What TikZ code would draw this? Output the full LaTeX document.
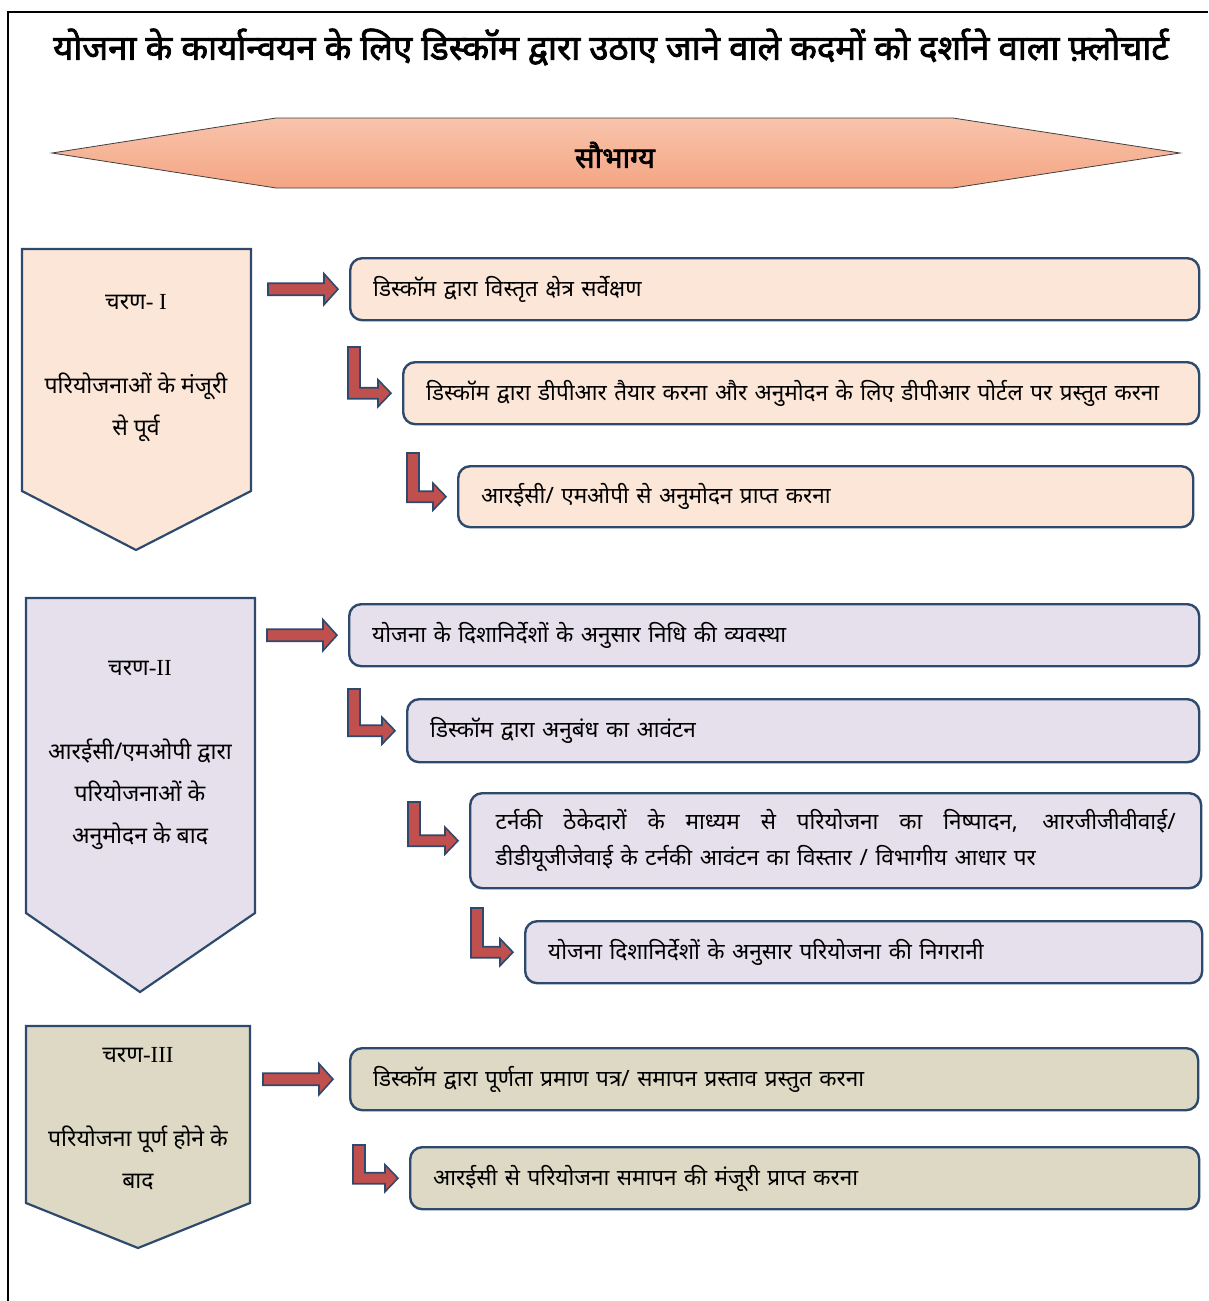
\documentclass[tikz,border=0pt]{standalone}
\usepackage{fontspec}
\setmainfont{Liberation Serif}
\newfontfamily\dev[Script=Devanagari]{Noto Sans}
\newfontfamily\devbold[Script=Devanagari, FakeBold=2.2]{Noto Sans}
\usetikzlibrary{calc}

\definecolor{rekha}{HTML}{2D4A6E}
\definecolor{charanA}{HTML}{FCE6D7}
\definecolor{charanB}{HTML}{E5E0EC}
\definecolor{charanC}{HTML}{DDD9C4}
\definecolor{teer}{HTML}{C0504D}
\definecolor{patteeU}{HTML}{F8C4AC}
\definecolor{patteeD}{HTML}{F4A583}

\tikzset{
  stepbox/.style={draw=rekha, line width=2.4pt, rounded corners=12pt, anchor=north west,
    inner xsep=23pt, inner ysep=0pt, align=left, font=\dev\fontsize{22.5}{27}\selectfont},
  stagetext/.style={align=center, anchor=base, font=\fontsize{23}{42}\selectfont},
  stageshape/.style={draw=rekha, line width=2.2pt, line join=miter},
  teerfill/.style={fill=teer, draw=rekha, line width=1.6pt, line join=miter},
}

% seedha teer: #1 = gap, #2 = lakshya node
\newcommand{\seedha}[2][11]{%
  \coordinate (nok) at ($(#2.west)+(-#1,0)$);
  \filldraw[teerfill] (nok) -- ++(-14,-15.5) -- ++(0,9.5) -- ++(-56,0) -- ++(0,12)
    -- ++(56,0) -- ++(0,9.5) -- cycle;}
% muda teer: #1 = lakshya node, (#2,#3) = stem ka upari baayaan kona
\newcommand{\mudaa}[3]{%
  \coordinate (nok) at ($(#1.west)+(-11,0)$);
  \coordinate (jad) at (#2,#3);
  \filldraw[teerfill] (nok) -- ++(-13,-13.5) -- ++(0,8) -- ($(jad |- nok)+(12,-5.5)$)
    -- ($(jad)+(12,0)$) -- (jad) -- ($(jad |- nok)+(0,5.5)$) -- ($(nok)+(-13,5.5)$)
    -- ++(0,8) -- cycle;}

\begin{document}
\begin{tikzpicture}[x=1pt, y=-1pt]
    \useasboundingbox (0,0) rectangle (1208,1301);
    % page frame
    \draw[line width=2pt] (8,1301) -- (8,12) -- (1208,12);
    % title
    \node[font=\devbold\fontsize{34.8}{40}\selectfont] (shirshak) at (611,47)
      {योजना के कार्यान्वयन के लिए डिस्कॉम द्वारा उठाए जाने वाले कदमों को दर्शाने वाला फ़्लोचार्ट};
    % saubhagya banner
    \shadedraw[top color=patteeU, bottom color=patteeD, draw=black!75, line width=0.8pt]
      (52,153) -- (276,118) -- (953,118) -- (1180,153) -- (953,188) -- (276,188) -- cycle;
    \node[font=\devbold\fontsize{29}{32}\selectfont] (saubhagya) at (615,155) {सौभाग्य};

    % charan I
    \filldraw[stageshape, fill=charanA] (22,249) -- (251,249) -- (251,491) -- (136,550) -- (22,491) -- cycle;
    \node[stagetext] (charan1) at (136,435)
      {{\dev चरण}- I\\[42pt]{\dev परियोजनाओं के मंजूरी}\\{\dev से पूर्व}};
    \node[stepbox, fill=charanA, text width=803pt, minimum height=62pt] (a1) at (349,257)
      {डिस्कॉम द्वारा विस्तृत क्षेत्र सर्वेक्षण};
    \node[stepbox, fill=charanA, text width=750pt, minimum height=62pt] (a2) at (402,361)
      {डिस्कॉम द्वारा डीपीआर तैयार करना और अनुमोदन के लिए डीपीआर पोर्टल पर प्रस्तुत करना};
    \node[stepbox, fill=charanA, text width=689pt, minimum height=61pt] (a3) at (457,465)
      {आरईसी/ एमओपी से अनुमोदन प्राप्त करना};
    \seedha{a1}
    \mudaa{a2}{348}{347}
    \mudaa{a3}{407}{453}

    % charan II
    \filldraw[stageshape, fill=charanB] (26,598) -- (255,598) -- (255,913) -- (140,992) -- (26,913) -- cycle;
    \node[stagetext] (charan2) at (140,843)
      {{\dev चरण}-II\\[42pt]{\dev आरईसी/एमओपी द्वारा}\\{\dev परियोजनाओं के}\\{\dev अनुमोदन के बाद}};
    \node[stepbox, fill=charanB, text width=804pt, minimum height=62pt] (b1) at (348,603)
      {योजना के दिशानिर्देशों के अनुसार निधि की व्यवस्था};
    \node[stepbox, fill=charanB, text width=746pt, minimum height=63pt] (b2) at (406,698)
      {डिस्कॉम द्वारा अनुबंध का आवंटन};
    \node[stepbox, fill=charanB, text width=680pt, inner xsep=25.5pt, minimum height=95pt,
      font=\dev\fontsize{22.5}{36}\selectfont] (b3) at (469,792)
      {\makebox[680pt][s]{\spaceskip=0.3em plus 1fil\relax
         टर्नकी ठेकेदारों के माध्यम से परियोजना का निष्पादन, आरजीजीवीवाई/}\\
       डीडीयूजीजेवाई के टर्नकी आवंटन का विस्तार / विभागीय आधार पर};
    \node[stepbox, fill=charanB, text width=631pt, minimum height=62pt] (b4) at (524,920)
      {योजना दिशानिर्देशों के अनुसार परियोजना की निगरानी};
    \seedha{b1}
    \mudaa{b2}{348}{689}
    \mudaa{b3}{408}{802}
    \mudaa{b4}{471}{908}

    % charan III
    \filldraw[stageshape, fill=charanC] (26,1026) -- (250,1026) -- (250,1203) -- (138,1248) -- (26,1203) -- cycle;
    \node[stagetext] (charan3) at (138,1188)
      {{\dev चरण}-III\\[42pt]{\dev परियोजना पूर्ण होने के}\\{\dev बाद}};
    \node[stepbox, fill=charanC, text width=802pt, minimum height=62pt] (c1) at (349,1047)
      {डिस्कॉम द्वारा पूर्णता प्रमाण पत्र/ समापन प्रस्ताव प्रस्तुत करना};
    \node[stepbox, fill=charanC, text width=743pt, minimum height=62pt] (c2) at (409,1146)
      {आरईसी से परियोजना समापन की मंजूरी प्राप्त करना};
    \seedha[16]{c1}
    \mudaa{c2}{353}{1145}
\end{tikzpicture}
\end{document}
